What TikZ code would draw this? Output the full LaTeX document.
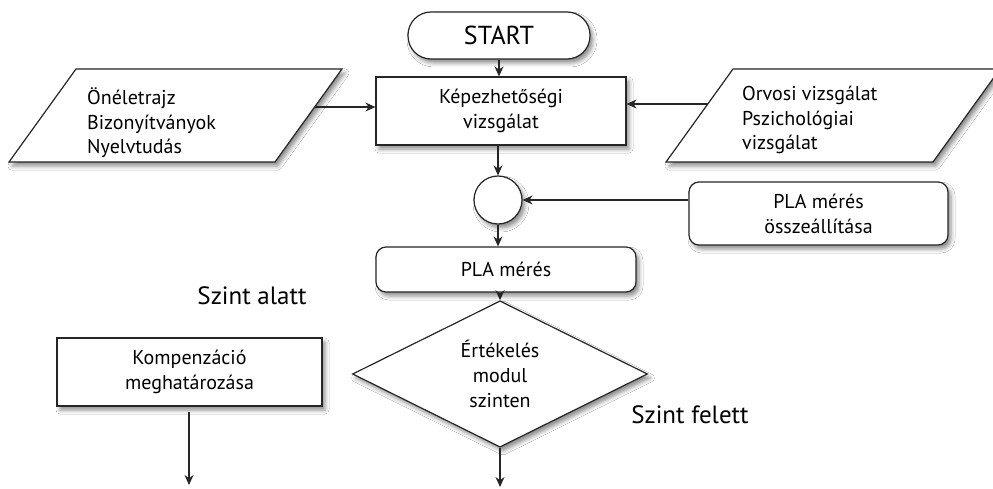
\documentclass[tikz,border=0pt]{standalone}
\usepackage{fontspec}
\setmainfont{PT Sans}
\usetikzlibrary{shapes.geometric,arrows.meta,shadows.blur,calc}
\begin{document}
\begin{tikzpicture}[x=1pt,y=-1pt,
  shd/.style={blur shadow={shadow xshift=3pt,shadow yshift=-4pt,shadow blur radius=4pt,shadow opacity=45}},
  base/.style={draw=black!85,fill=white,line width=1.2pt,shd,font=\fontsize{20}{25}\selectfont,align=center,inner sep=0pt},
  proc/.style={base,rectangle},
  rproc/.style={base,rectangle,rounded corners=10pt},
  term/.style={base,rectangle,rounded corners=23pt,font=\fontsize{26}{30}\selectfont},
  para/.style={draw=black!85,fill=white,line width=1.2pt,shd},
  dec/.style={base,diamond,minimum width=295pt,minimum height=130pt},
  junc/.style={base,circle,minimum size=48pt},
  txt/.style={font=\fontsize{20}{24.5}\selectfont,align=left,inner sep=0pt},
  lbl/.style={font=\fontsize{25}{30}\selectfont,inner sep=0pt},
  arr/.style={-{Stealth[length=10pt,width=9pt]},line width=1.2pt,draw=black!85}
]
\useasboundingbox[fill=white] (0,0) rectangle (993,489);
\node[term,minimum width=182pt,minimum height=47pt] (start) at (499,35.5) {START};
\node[proc,minimum width=250pt,minimum height=68pt] (kep) at (501,111) {Képezhetőségi\\vizsgálat};
\draw[para] (76,69) -- (342,69) -- (275,162) -- (9,162) -- cycle;
\coordinate (lp) at ($(342,69)!38/93!(275,162)$);
\node[txt,anchor=west] (ltxt) at (87,123) {Önéletrajz\\Bizonyítványok\\Nyelvtudás};
\draw[para] (733,69) -- (1000,69) -- (933,162) -- (666,162) -- cycle;
\coordinate (rp) at ($(733,69)!35/93!(666,162)$);
\node[txt,anchor=west] (rtxt) at (742,120) {Orvosi vizsgálat\\Pszichológiai\\vizsgálat};
\node[junc] (circ) at (498,200) {};
\node[rproc,minimum width=259pt,minimum height=63pt] (plaossz) at (818.5,213.5) {PLA mérés\\összeállítása};
\node[rproc,minimum width=260pt,minimum height=45pt] (pla) at (506,269.5) {PLA mérés};
\node[dec] (dia) at (500,374) {Értékelés\\modul\\szinten};
\node[proc,minimum width=265pt,minimum height=68pt] (komp) at (189.5,372) {Kompenzáció\\meghatározása};
\node[lbl] (alatt) at (252,296) {Szint alatt};
\node[lbl] (felett) at (690,415) {Szint felett};
\coordinate (dend) at (500,487);
\coordinate (kend) at (189,485);
\draw[arr] (start.south) -- (start.south |- kep.north);
\draw[arr] (lp) -- (lp -| kep.west);
\draw[arr] (rp) -- (rp -| kep.east);
\draw[arr] (circ.north |- kep.south) -- (circ.north);
\draw[arr] (plaossz.west |- circ.east) -- (circ.east);
\draw[arr] (circ.south) -- (circ.south |- pla.north);
\draw[arr] (dia.north |- pla.south) -- (dia.north);
\draw[arr] (dia.south) -- (dend);
\draw[arr,shorten <=5pt] (komp.south -| kend) -- (kend);
\end{tikzpicture}
\end{document}
